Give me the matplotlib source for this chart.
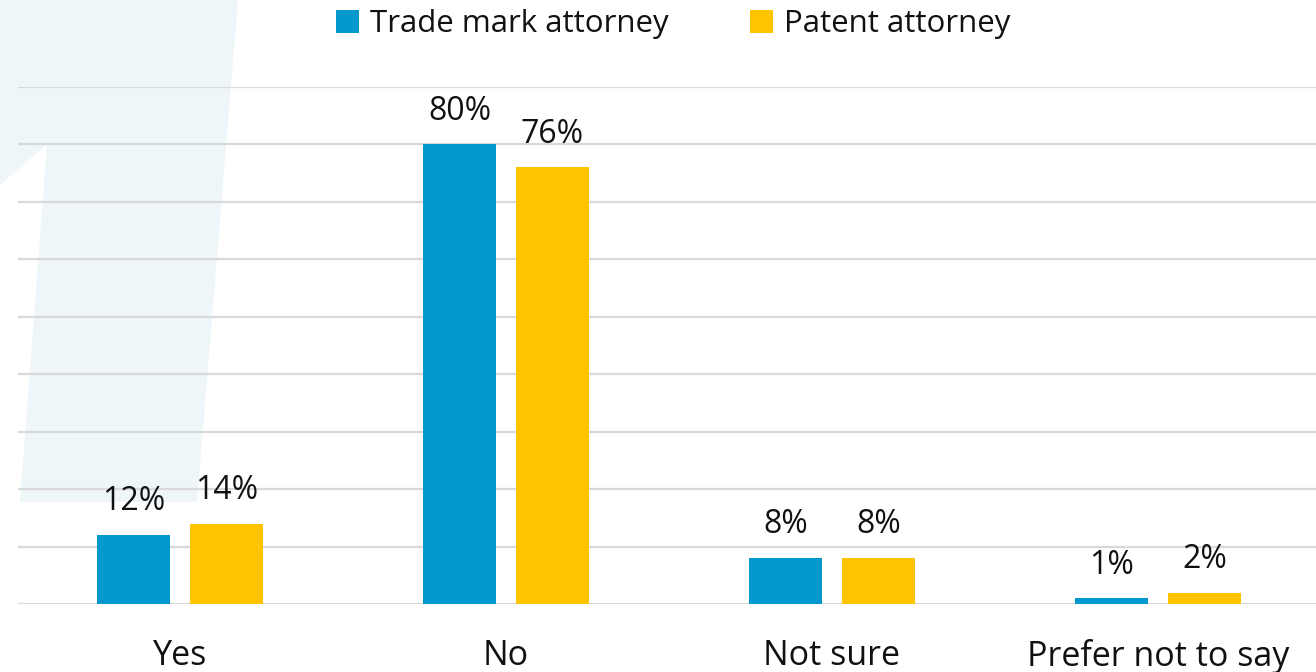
import matplotlib
matplotlib.use("Agg")
import matplotlib.pyplot as plt
import numpy as np
from matplotlib.patches import Polygon

# ── Data ────────────────────────────────────────────────────────────────────
categories = ["Yes", "No", "Not sure", "Prefer not to say"]
trade_mark = [12, 80, 8, 1]
patent = [14, 76, 8, 2]
series_names = ["Trade mark attorney", "Patent attorney"]

BLUE = "#0399ce"
YELLOW = "#fec400"
GRID = "#d9d9d9"

plt.rcParams["font.family"] = ["Open Sans", "DejaVu Sans"]

W, H = 1316, 672
fig = plt.figure(figsize=(W / 100, H / 100), dpi=100)

# faint background shape (decoration), in figure pixels
shape = [(0, 0), (238, 0), (197, 502), (20, 502), (47, 144), (0, 185)]
fig.patches.append(Polygon([(x / W, 1 - y / H) for x, y in shape],
                           closed=True, transform=fig.transFigure,
                           facecolor="#eef6fa", edgecolor="none", zorder=0))

ax = fig.add_axes([18 / W, 1 - 604 / H, (W - 18) / W, (604 - 87) / H])
ax.set_zorder(1)
ax.patch.set_alpha(0)

x = np.arange(len(categories))
bw = 0.224
off = 0.1426
b1 = ax.bar(x - off, trade_mark, bw, color=BLUE, label=series_names[0], zorder=3)
b2 = ax.bar(x + off, patent, bw, color=YELLOW, label=series_names[1], zorder=3)

for bars, vals in ((b1, trade_mark), (b2, patent)):
    for rect, v in zip(bars, vals):
        ax.annotate(f"{v}%", (rect.get_x() + rect.get_width() / 2, v),
                    xytext=(0, 12), textcoords="offset points",
                    ha="center", va="bottom", fontsize=23, color="#111111")

ax.set_xlim(-0.497, 3.485)
ax.set_ylim(0, 90)
ax.set_yticks(np.arange(0, 91, 10))
ax.yaxis.grid(True, color=GRID, linewidth=1.6, zorder=0)
ax.tick_params(axis="y", left=False, labelleft=False)
ax.tick_params(axis="x", bottom=False, pad=22, labelsize=24.5, labelcolor="#111111")
ax.set_xticks(x)
ax.set_xticklabels(categories)
for s in ax.spines.values():
    s.set_visible(False)

fig.legend(loc="center", bbox_to_anchor=(673 / W, 1 - 24 / H), ncol=2,
           frameon=False, fontsize=22.5, handlelength=0.75, handleheight=0.75,
           handletextpad=0.35, columnspacing=2.6, labelcolor="#111111")

fig.savefig("out.png", dpi=100)
